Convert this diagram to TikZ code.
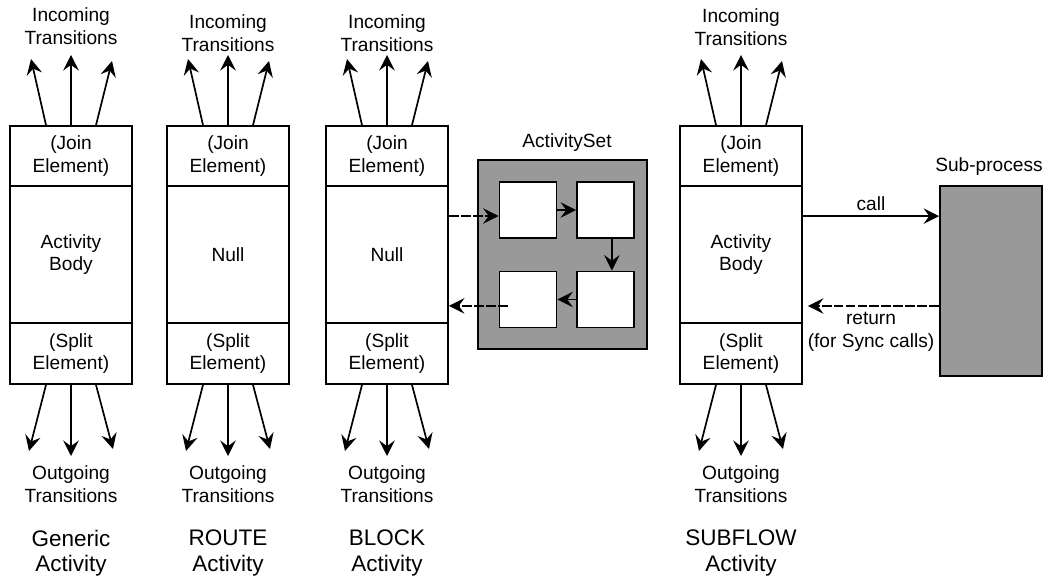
\documentclass[tikz,border=0pt]{standalone}
\usepackage{fontspec}
\setmainfont{Liberation Sans}
\usepackage{tikz}
\usetikzlibrary{arrows.meta}

\definecolor{setgray}{HTML}{999999}

\tikzset{
	part/.style={draw, line width=1.3pt, minimum width=3.05cm, inner sep=0pt, align=center, font=\fontsize{13.6}{16}\selectfont},
	box/.style={draw, fill=white, line width=1.3pt, minimum width=1.425cm, minimum height=1.4cm},
	shade/.style={draw, fill=setgray, line width=1.3pt},
	txt/.style={align=center, inner sep=0pt, font=\fontsize{13.6}{16}\selectfont},
	kind/.style={align=center, inner sep=0pt, font=\fontsize{16}{18}\selectfont},
	flow/.style={-{Stealth[length=11pt,width=11pt,inset=4pt]}, line width=1.2pt},
	dashline/.style={dash pattern=on 7pt off 1.5pt}
}

\begin{document}
\begin{tikzpicture}[x=0.025cm, y=-0.025cm]
	\useasboundingbox (0,0) rectangle (1043,576);

	% generic activity
	\node (j1) at (71,156) [part, minimum height=1.5cm] {(Join\\Element)};
	\node (b1) at (71,254.5) [part, minimum height=3.425cm] {Activity\\Body};
	\node (s1) at (71,353.5) [part, minimum height=1.525cm] {(Split\\Element)};

	% route activity
	\node (j2) at (228,156) [part, minimum height=1.5cm] {(Join\\Element)};
	\node (b2) at (228,254.5) [part, minimum height=3.425cm] {Null};
	\node (s2) at (228,353.5) [part, minimum height=1.525cm] {(Split\\Element)};

	% block activity
	\node (j3) at (387,156) [part, minimum height=1.5cm] {(Join\\Element)};
	\node (b3) at (387,254.5) [part, minimum height=3.425cm] {Null};
	\node (s3) at (387,353.5) [part, minimum height=1.525cm] {(Split\\Element)};

	% subflow activity
	\node (j4) at (741,156) [part, minimum height=1.5cm] {(Join\\Element)};
	\node (b4) at (741,254.5) [part, minimum height=3.425cm] {Activity\\Body};
	\node (s4) at (741,353.5) [part, minimum height=1.525cm] {(Split\\Element)};

	% activity set
	\node (set) at (562.5,254.5) [shade, minimum width=4.225cm, minimum height=4.725cm] {};
	\node (sq1) at (528,210) [box] {};
	\node (sq2) at (605.5,210) [box] {};
	\node (sq3) at (528,299.5) [box] {};
	\node (sq4) at (605.5,299.5) [box] {};
	\node (setname) at (567,143) [txt] {ActivitySet};

	% sub-process
	\node (sub) at (991,281) [shade, minimum width=2.55cm, minimum height=4.75cm] {};
	\node (subname) at (989,167) [txt] {Sub-process};

	% labels
	\node (in1) at (71,26) [txt] {Incoming\\Transitions};
	\node (in2) at (228,33) [txt] {Incoming\\Transitions};
	\node (in3) at (387,33) [txt] {Incoming\\Transitions};
	\node (in4) at (741,27) [txt] {Incoming\\Transitions};
	\node (out1) at (71,484) [txt] {Outgoing\\Transitions};
	\node (out2) at (228,484) [txt] {Outgoing\\Transitions};
	\node (out3) at (387,484) [txt] {Outgoing\\Transitions};
	\node (out4) at (741,484) [txt] {Outgoing\\Transitions};
	\node (k1) at (71,553) [kind] {Generic\\Activity};
	\node (k2) at (228,553) [kind] {ROUTE\\Activity};
	\node (k3) at (387,553) [kind] {BLOCK\\Activity};
	\node (k4) at (741,553) [kind] {SUBFLOW\\Activity};

	% arrow ends
	\coordinate (i1a) at (31,59); \coordinate (i1b) at (71,55); \coordinate (i1c) at (112,61);
	\coordinate (i2a) at (188,59); \coordinate (i2b) at (228,55); \coordinate (i2c) at (269,61);
	\coordinate (i3a) at (347,59); \coordinate (i3b) at (387,55); \coordinate (i3c) at (428,61);
	\coordinate (i4a) at (701,59); \coordinate (i4b) at (741,55); \coordinate (i4c) at (782,61);
	\coordinate (o1a) at (29,451); \coordinate (o1b) at (71,456); \coordinate (o1c) at (113,449);
	\coordinate (o2a) at (186,451); \coordinate (o2b) at (228,456); \coordinate (o2c) at (270,449);
	\coordinate (o3a) at (345,451); \coordinate (o3b) at (387,456); \coordinate (o3c) at (429,449);
	\coordinate (o4a) at (699,451); \coordinate (o4b) at (741,456); \coordinate (o4c) at (783,449);

	\path	[flow]	([xshift=-0.625cm]j1.north)	edge	(i1a)
			(j1.north)	edge	(i1b)
			([xshift=0.625cm]j1.north)	edge	(i1c)
			([xshift=-0.625cm]j2.north)	edge	(i2a)
			(j2.north)	edge	(i2b)
			([xshift=0.625cm]j2.north)	edge	(i2c)
			([xshift=-0.625cm]j3.north)	edge	(i3a)
			(j3.north)	edge	(i3b)
			([xshift=0.625cm]j3.north)	edge	(i3c)
			([xshift=-0.625cm]j4.north)	edge	(i4a)
			(j4.north)	edge	(i4b)
			([xshift=0.625cm]j4.north)	edge	(i4c);

	\path	[flow]	([xshift=-0.625cm]s1.south)	edge	(o1a)
			(s1.south)	edge	(o1b)
			([xshift=0.625cm]s1.south)	edge	(o1c)
			([xshift=-0.625cm]s2.south)	edge	(o2a)
			(s2.south)	edge	(o2b)
			([xshift=0.625cm]s2.south)	edge	(o2c)
			([xshift=-0.625cm]s3.south)	edge	(o3a)
			(s3.south)	edge	(o3b)
			([xshift=0.625cm]s3.south)	edge	(o3c)
			([xshift=-0.625cm]s4.south)	edge	(o4a)
			(s4.south)	edge	(o4b)
			([xshift=0.625cm]s4.south)	edge	(o4c);

	% inside the activity set
	\coordinate (enter) at ([yshift=-0.15cm]sq1.west);
	\coordinate (leave) at ([xshift=-0.5cm,yshift=-0.16cm]sq3.center);
	\path	[flow]	(sq1)	edge	(sq2)
			([xshift=0.16cm]sq2.south)	edge	([xshift=0.16cm]sq4.north)
			(sq4)	edge	(sq3);
	\path	[flow, dashline]	(b3.east |- enter)	edge	(enter)
			(leave)	edge	(b3.east |- leave);

	% call and return
	\coordinate (call) at ([yshift=0.96cm]b4.east);
	\coordinate (ret) at ([yshift=-0.625cm]sub.west);
	\draw [flow] (call) -- (call -| sub.west) node [midway, above, txt, yshift=3pt] {call};
	\draw [flow, dashline, shorten >=0.125cm] (ret) -- (ret -| b4.east) node [midway, below, txt, yshift=-4pt] {return\\(for Sync calls)};
\end{tikzpicture}
\end{document}
